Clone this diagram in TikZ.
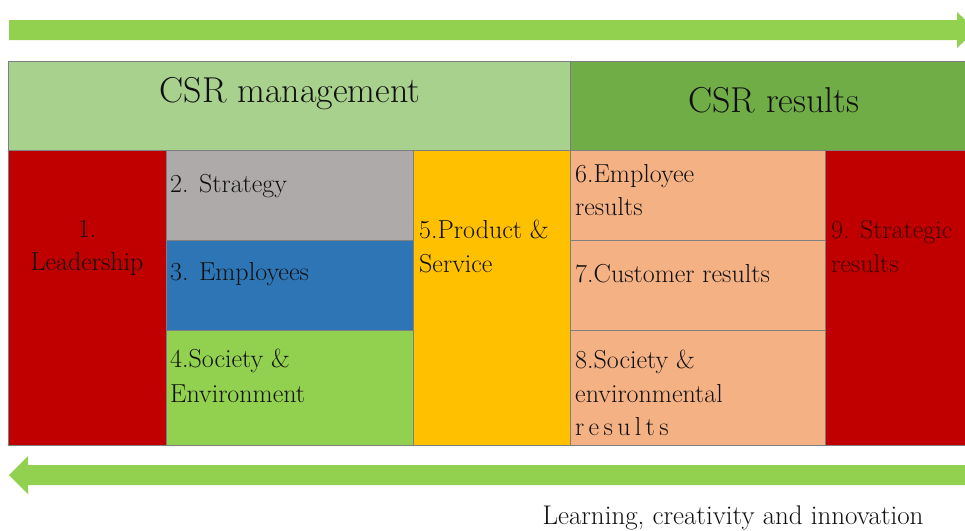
\documentclass[tikz,border=0pt]{standalone}
\definecolor{arrowgreen}{HTML}{92D050}
\definecolor{mgmtgreen}{HTML}{A9D18E}
\definecolor{resgreen}{HTML}{70AD47}
\definecolor{csrred}{HTML}{C00000}
\definecolor{csrgray}{HTML}{AEAAAA}
\definecolor{csrblue}{HTML}{2E75B6}
\definecolor{socgreen}{HTML}{92D050}
\definecolor{csryellow}{HTML}{FFC000}
\definecolor{csrpeach}{HTML}{F4B183}
\definecolor{edgegray}{HTML}{7F7F7F}
\definecolor{txt}{HTML}{101010}
\definecolor{darkred}{HTML}{3A0000}
\begin{document}
\begin{tikzpicture}[x=1pt,y=-1pt,
  box/.style={draw=edgegray, line width=0.8pt, inner sep=0pt, outer sep=0pt},
  lbl/.style={anchor=base west, inner sep=0pt, text=txt, font=\fontsize{26}{33}\selectfont},
  head/.style={anchor=base west, inner sep=0pt, text=txt, font=\fontsize{36}{40}\selectfont}]
\useasboundingbox (0,0) rectangle (965,530);
\clip (0,0) rectangle (965,530);
% top arrow
\fill[arrowgreen] (9,20) -- (957,20) -- (957,12) -- (976,30) -- (957,48) -- (957,40) -- (9,40) -- cycle;
% bottom arrow
\fill[arrowgreen] (975,465) -- (28,465) -- (28,456) -- (9,475) -- (28,494) -- (28,485) -- (975,485) -- cycle;
% header
\node[box, fill=mgmtgreen, minimum width=562, minimum height=89, anchor=north west] (mgmt) at (8,61) {};
\node[box, fill=resgreen, minimum width=400, minimum height=89, anchor=north west] (res) at (570,61) {};
% body
\node[box, fill=csrred, minimum width=158, minimum height=295, anchor=north west] (b1) at (8,150) {};
\node[box, fill=csrgray, minimum width=247, minimum height=90, anchor=north west] (b2) at (166,150) {};
\node[box, fill=csrblue, minimum width=247, minimum height=90, anchor=north west] (b3) at (166,240) {};
\node[box, fill=socgreen, minimum width=247, minimum height=115, anchor=north west] (b4) at (166,330) {};
\node[box, fill=csryellow, minimum width=157, minimum height=295, anchor=north west] (b5) at (413,150) {};
\node[box, fill=csrpeach, minimum width=255, minimum height=90, anchor=north west] (b6) at (570,150) {};
\node[box, fill=csrpeach, minimum width=255, minimum height=90, anchor=north west] (b7) at (570,240) {};
\node[box, fill=csrpeach, minimum width=255, minimum height=115, anchor=north west] (b8) at (570,330) {};
\node[box, fill=csrred, minimum width=150, minimum height=295, anchor=north west] (b9) at (825,150) {};
% header texts
\node[head, anchor=base] (tmgmt) at (290,102) {CSR management};
\node[head, anchor=base] (tres) at (774,112) {CSR results};
% body texts
\node[lbl, anchor=base] (t1a) at (87,237) {1.};
\node[lbl, anchor=base] (t1b) at (87,270) {Leadership};
\node[lbl] (t2) at (170,192) {2. Strategy};
\node[lbl] (t3) at (170,280) {3. Employees};
\node[lbl] (t4a) at (170,367) {4.Society \&};
\node[lbl] (t4b) at (170,402) {Environment};
\node[lbl] (t5a) at (419,238) {5.Product \&};
\node[lbl] (t5b) at (419,272) {Service};
\node[lbl] (t6a) at (575,182) {6.Employee};
\node[lbl] (t6b) at (575,215) {results};
\node[lbl] (t7) at (575,282) {7.Customer results};
\node[lbl] (t8a) at (575,368) {8.Society \&};
\node[lbl] (t8b) at (575,402) {environmental};
\node[lbl] (t8c) at (575,435) {r\,e\,s\,u\,l\,t\,s};
\node[lbl, text=darkred] (t9a) at (831,238) {9. Strategic};
\node[lbl, text=darkred] (t9b) at (831,272) {results};
% caption
\node[lbl, anchor=base, font=\fontsize{27}{33}\selectfont] (cap) at (733,524) {Learning, creativity and innovation};
\end{tikzpicture}
\end{document}
